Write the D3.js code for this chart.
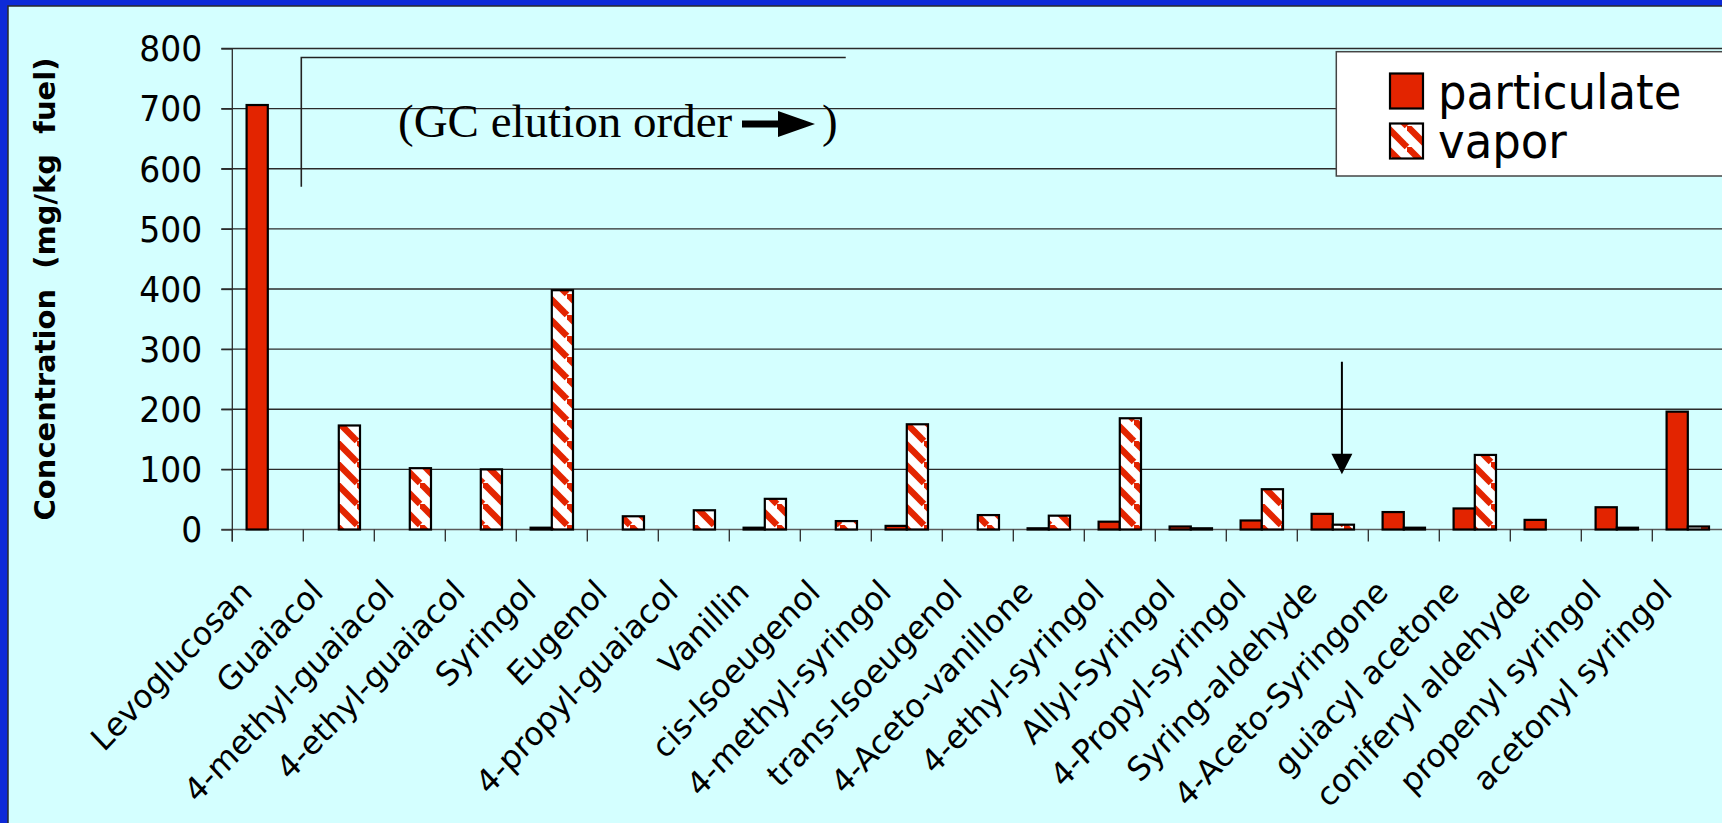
<!DOCTYPE html>
<html><head><meta charset="utf-8">
<script src="https://cdn.jsdelivr.net/npm/d3@7"></script>
<style>html,body{margin:0;padding:0;overflow:hidden;background:#0d2ad8}</style>
</head><body><svg id="chart" width="1722" height="823"></svg>
<script>
const categories = ["Levoglucosan","Guaiacol","4-methyl-guaiacol","4-ethyl-guaiacol","Syringol","Eugenol","4-propyl-guaiacol","Vanillin","cis-Isoeugenol","4-methyl-syringol","trans-Isoeugenol","4-Aceto-vanillone","4-ethyl-syringol","Allyl-Syringol","4-Propyl-syringol","Syring-aldehyde","4-Aceto-Syringone","guiacyl acetone","coniferyl aldehyde","propenyl syringol","acetonyl syringol"];
const particulate = [706,0,0,0,3,0,0,3,0,6,0,2,13,5,15,26,29,35,16,37,196];
const vapor = [0,173,102,100,398,22,32,51,14,175,24,23,185,2,67,8,3,124,0,3,5];
const seriesNames = ["particulate","vapor"];
const yTicks = [0,100,200,300,400,500,600,700,800];
const yTitle = "Concentration  (mg/kg  fuel)";
const noteText = "(GC elution order";

const W = 1722, H = 823;
const RED = "#e32400", CYAN = "#d4ffff", BLUE = "#0d2ad8";
const plotLeft = 232.3, band = 71, plotTop = 48.5, plotBottom = 529.5;
const STRETCH = 1.06;

const svg = d3.select("#chart");
const defs = svg.append("defs");
const pat = defs.append("pattern").attr("id","vap").attr("patternUnits","userSpaceOnUse")
  .attr("width",21).attr("height",21);
pat.append("rect").attr("width",21).attr("height",21).attr("fill","#fff");
[[-21,0,0,21],[-5,-5,26,26],[0,-21,21,0]].forEach(([a,b,c,d])=>{
  pat.append("line").attr("x1",a).attr("y1",b).attr("x2",c).attr("y2",d)
    .attr("stroke",RED).attr("stroke-width",6.5);
});

// background
svg.append("rect").attr("width",W).attr("height",H).attr("fill",BLUE);
svg.append("rect").attr("x",8).attr("y",6).attr("width",W).attr("height",H)
  .attr("fill",CYAN).attr("stroke","#2a2a2a").attr("stroke-width",1.5);

const x = d3.scaleBand().domain(categories)
  .range([plotLeft, plotLeft + band*categories.length]).padding(0);
const x1 = d3.scaleBand().domain(seriesNames).range([14.3, 56.7]).padding(0);
const y = d3.scaleLinear().domain([0,800]).range([plotBottom, plotTop]);

// gridlines
svg.append("g").selectAll("line").data(yTicks.filter(t=>t>0)).join("line")
  .attr("x1",plotLeft-11).attr("x2",W).attr("y1",d=>y(d)).attr("y2",d=>y(d))
  .attr("stroke","#2b2b2b").attr("stroke-width",1.3);
svg.append("line").attr("x1",plotLeft-11).attr("x2",W).attr("y1",y(0)).attr("y2",y(0))
  .attr("stroke","#5a5a5a").attr("stroke-width",1.6);

// y axis
const yAxis = d3.axisLeft(y).tickValues(yTicks).tickSize(11).tickPadding(19).tickFormat(d3.format("d"));
const gy = svg.append("g").attr("transform",`translate(${plotLeft},0)`).call(yAxis);
gy.select(".domain").remove();
gy.selectAll(".tick line").attr("stroke","#2b2b2b").attr("stroke-width",1.3);
gy.selectAll(".tick text").attr("font-family","'DejaVu Sans', sans-serif").attr("font-size",33)
  .attr("fill","#000").attr("transform","scale(1,1.1)").attr("dy","0.34em");
svg.append("line").attr("x1",plotLeft).attr("x2",plotLeft).attr("y1",y(800)).attr("y2",plotBottom+12)
  .attr("stroke","#2b2b2b").attr("stroke-width",1.3);

// x ticks at category boundaries
const bounds = categories.map(c=>x(c)).concat([x.range()[1]]);
svg.append("g").selectAll("line").data(bounds).join("line")
  .attr("x1",d=>d).attr("x2",d=>d).attr("y1",plotBottom).attr("y2",plotBottom+12)
  .attr("stroke","#2b2b2b").attr("stroke-width",1.3);

// bars
const rows = categories.map((c,i)=>({c, vals:[{s:"particulate",v:particulate[i]},{s:"vapor",v:vapor[i]}]}));
const gBars = svg.append("g");
rows.forEach(r=>{
  r.vals.filter(d=>d.v>0).forEach(d=>{
    gBars.append("rect")
      .attr("x", x(r.c)+x1(d.s)).attr("width", x1.bandwidth())
      .attr("y", y(d.v)).attr("height", y(0)-y(d.v))
      .attr("fill", d.s==="particulate" ? RED : "url(#vap)")
      .attr("stroke","#000").attr("stroke-width",2.2);
  });
});

// category labels
svg.append("g").selectAll("text").data(categories).join("text")
  .attr("transform",d=>`translate(${x(d)+x.bandwidth()/2-14},594) scale(1,${STRETCH}) rotate(-45)`)
  .attr("text-anchor","end").attr("font-family","'DejaVu Sans', sans-serif")
  .attr("font-size",31).attr("fill","#000").text(d=>d);

// y title
svg.append("text").attr("transform",`translate(55,${(plotTop+plotBottom)/2}) rotate(-90)`)
  .attr("text-anchor","middle").attr("font-family","'DejaVu Sans', sans-serif")
  .attr("font-weight","bold").attr("font-size",29).style("white-space","pre").text(yTitle);

// legend
const lg = svg.append("g");
lg.append("rect").attr("x",1336.3).attr("y",51.7).attr("width",420).attr("height",124.3)
  .attr("fill","#fff").attr("stroke","#444").attr("stroke-width",1.5);
seriesNames.forEach((s,i)=>{
  lg.append("rect").attr("x",1390).attr("y",73.5+i*50).attr("width",33).attr("height",35)
    .attr("fill", i===0?RED:"url(#vap)").attr("stroke","#000").attr("stroke-width",2.2);
  lg.append("text").attr("transform",`translate(1438,${109.3+i*49}) scale(1,1.08)`)
    .attr("font-family","'DejaVu Sans', sans-serif")
    .attr("font-size",45).attr("fill","#000").text(s);
});

// GC elution bracket annotation
const bx0 = x(categories[1]) - 2, bx1 = x(categories[8]) + 0.64*band;
svg.append("path").attr("d",`M${bx0},${y(570)}V${y(785)}H${bx1}`)
  .attr("fill","none").attr("stroke","#222").attr("stroke-width",1.6);
svg.append("text").attr("x",398).attr("y",137).attr("font-family","'Liberation Serif', 'Times New Roman', serif")
  .attr("font-size",47).attr("fill","#000").text(noteText);
svg.append("path").attr("d","M742,120.5H778V111L815,124L778,137V127.5H742Z").attr("fill","#000");
svg.append("text").attr("x",822).attr("y",137).attr("font-family","'Liberation Serif', 'Times New Roman', serif")
  .attr("font-size",47).attr("fill","#000").text(")");

// vertical arrow pointing at Syring-aldehyde vapor
const ax = x("Syring-aldehyde") + x1("vapor") + x1.bandwidth()/2 - 1.5;
svg.append("line").attr("x1",ax).attr("x2",ax).attr("y1",y(279)).attr("y2",y(120))
  .attr("stroke","#000").attr("stroke-width",2);
svg.append("path").attr("d",`M${ax-10.5},${y(126)}L${ax+10.5},${y(126)}L${ax},${y(92)}Z`).attr("fill","#000");
</script></body></html>
